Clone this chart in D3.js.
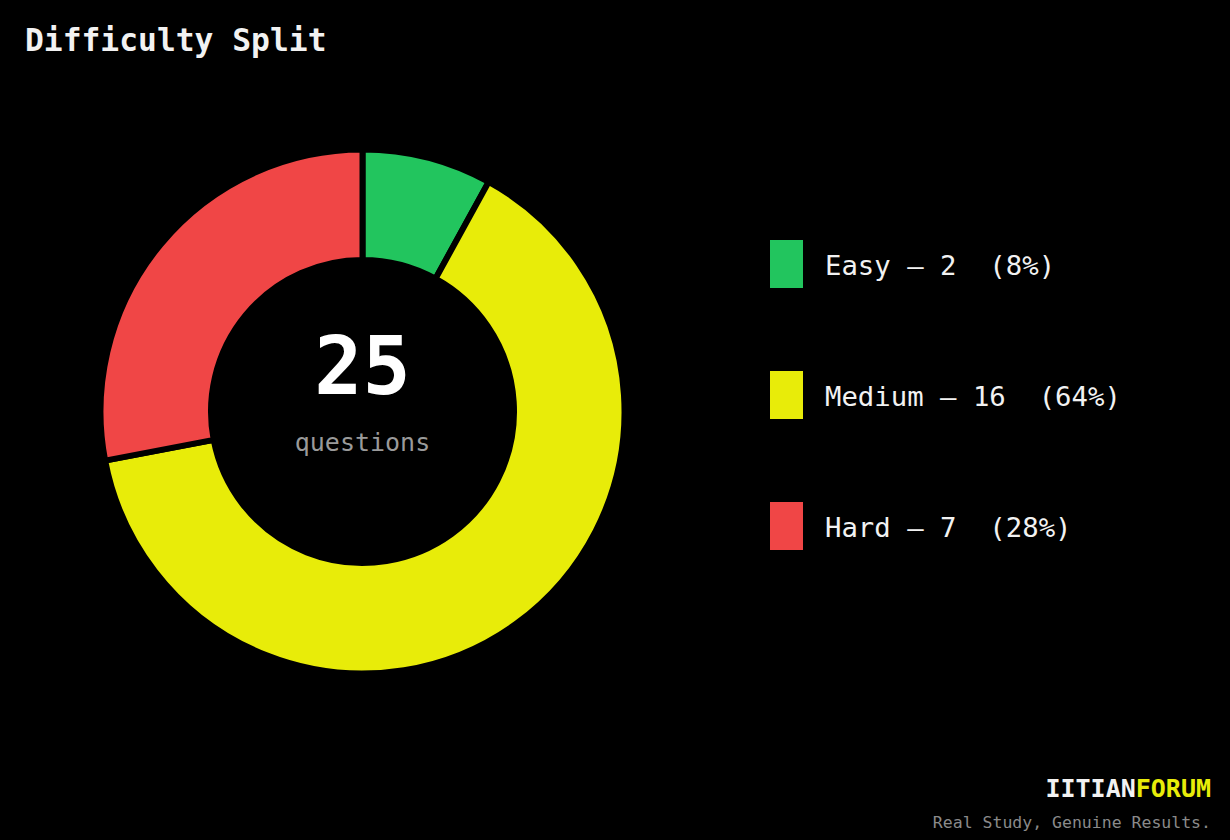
<!DOCTYPE html>
<html><head><meta charset="utf-8">
<script src="https://cdn.jsdelivr.net/npm/d3@7"></script>
<style>
html,body{margin:0;padding:0;background:#000;}
svg{display:block;}
text{font-family:"DejaVu Sans Mono",monospace;white-space:pre;}
</style></head>
<body>
<svg id="c" width="1230" height="840"></svg>
<script>
const categories = ["Easy", "Medium", "Hard"];
const values = [2, 16, 7];
const colors = ["#22c55e", "#e8ec09", "#f04646"];
const title = "Difficulty Split";
const centerLabel = "questions";
const brandA = "IITIAN", brandB = "FORUM";
const tagline = "Real Study, Genuine Results.";

const svg = d3.select("#c");
svg.append("rect").attr("width",1230).attr("height",840).attr("fill","#000");

svg.append("text").attr("x",25).attr("y",51).attr("fill","#f2f2f2")
  .attr("font-size",31.3).attr("font-weight","bold").text(title);

const total = d3.sum(values);
const cx = 362.5, cy = 411.5;
const pie = d3.pie().sort(null).value(d=>d)(values);
const arc = d3.arc().innerRadius(151.5).outerRadius(262);
const g = svg.append("g").attr("transform",`translate(${cx},${cy})`);
g.selectAll("path").data(pie).join("path")
  .attr("d",arc).attr("fill",(d,i)=>colors[i])
  .attr("stroke","#000").attr("stroke-width",6).attr("stroke-linejoin","miter");

g.append("text").attr("x",0).attr("y",-18).attr("text-anchor","middle")
  .attr("fill","#fff").attr("font-size",80).attr("font-weight","bold").text(total);
g.append("text").attr("x",0).attr("y",39).attr("text-anchor","middle")
  .attr("fill","#9a9a9a").attr("font-size",25).text(centerLabel);

const ly = d3.scalePoint().domain(categories).range([264,526]);
const lg = svg.append("g");
categories.forEach((c,i)=>{
  const y = ly(c);
  lg.append("rect").attr("x",770).attr("y",y-24).attr("width",33).attr("height",48).attr("fill",colors[i]);
  const pct = Math.round(values[i]/total*100);
  lg.append("text").attr("x",825).attr("y",y+11).attr("fill","#f2f2f2")
    .attr("font-size",27.3).text(`${c} — ${values[i]}  (${pct}%)`);
});

const b = svg.append("text").attr("x",1211).attr("y",797).attr("text-anchor","end")
  .attr("font-size",25).attr("font-weight","bold");
b.append("tspan").attr("fill","#f2f2f2").text(brandA);
b.append("tspan").attr("fill","#e8ec09").text(brandB);
svg.append("text").attr("x",1211).attr("y",828).attr("text-anchor","end")
  .attr("fill","#8a8a8a").attr("font-size",16.5).text(tagline);
</script>
</body></html>
